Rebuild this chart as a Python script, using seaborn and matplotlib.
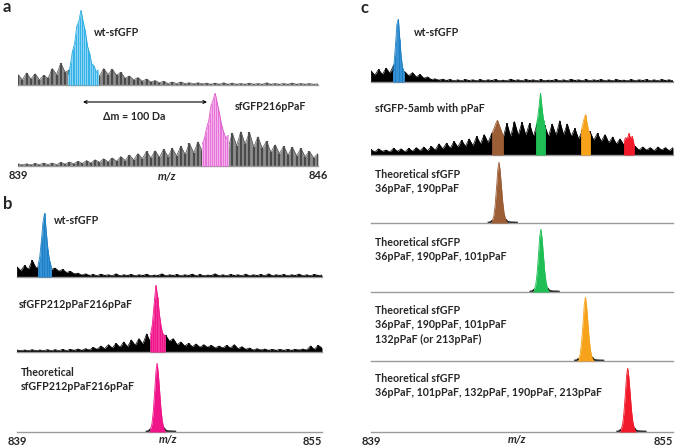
import numpy as np
import pandas as pd
import seaborn as sns
import matplotlib.pyplot as plt

# ---- panel a: m/z 839-846, intensities in % of the highlighted peak ----
a_range = (839.0, 846.0)
a_ticks = [839, 846]
a_wt_bg = [14, 7, 16, 8, 15, 7, 13, 9, 22, 14, 29, 17, 20, 12, 14, 10, 14, 10,
           16, 12, 22, 14, 21, 13, 17, 9, 12, 7, 10, 5, 8, 4, 6, 3, 5, 2, 4, 2,
           4, 2, 3, 1.5, 3, 1.5, 2.5, 1, 2.5, 1, 3, 1, 2.5, 1, 2, 1, 2.5, 1, 2,
           1, 3, 1, 2, 1, 2, 1, 2.5, 1, 2, 1, 2, 1, 1.5]
a_wt_peak_range = (840.17, 840.87)
a_wt_peak = [15, 26, 45, 55, 78, 85, 100, 84, 72, 52, 42, 28, 26, 18, 20]
a_mut_bg = [3, 1.5, 3, 1.5, 3.5, 2, 4, 2, 4, 2, 5, 2.5, 5.5, 3, 6.5, 3.5, 7.5,
            4, 8.5, 5, 10, 5.5, 11, 6.5, 13, 7.5, 15, 8.5, 17, 10, 20, 11, 21,
            12, 23, 13, 24, 14, 27, 16, 31, 18, 33, 20, 30, 20, 30, 20, 35, 24,
            45, 28, 47, 30, 46, 26, 40, 24, 34, 19, 29, 17, 27, 15, 26, 14, 24,
            13, 20, 11, 17]
a_mut_peak_range = (843.30, 843.90)
a_mut_peak = [30, 38, 52, 62, 82, 90, 100, 86, 72, 56, 46, 38, 42]

# ---- panels b and c: m/z 839-855 ----
bc_range = (839.0, 855.0)
bc_ticks = [839, 855]
b_wt_bg = [16, 10, 18, 12, 26, 14, 18, 14, 16, 12, 14, 9, 12, 7, 9, 5, 6, 3, 5,
           2.5, 4,
           2, 4.5, 2.5, 3.5, 2, 5, 2, 3.5, 2.5, 4,
           2, 3.5, 2.5, 4.5, 2, 3, 2.5, 5, 2, 3.5,
           2.5, 4, 2, 3.5, 2.5, 4.5, 2, 4, 2, 3,
           2.5, 5, 2, 3.5, 2, 4, 2.5, 3.5, 2, 4.5,
           2, 3.5, 2.5, 4, 2, 5, 2, 3.5, 2.5, 4,
           2, 3.5, 2.5, 4.5, 2, 3.5, 2, 4, 2.5, 3]
b_wt_peak_range = (840.10, 840.80)
b_wt_peak = [18, 30, 55, 85, 100, 70, 42, 25, 16]
b_mut_bg = [3, 2, 3, 2, 3.5, 2, 3, 2, 3.5, 2,
            3.5, 2, 4, 2, 4, 2.5, 4.5, 2.5, 5, 3,
            7, 4, 9, 5, 11, 6, 13, 7, 15, 8,
            18, 10, 20, 12, 27, 15, 20, 15, 20, 25,
            16, 20, 11, 15, 9, 13, 8, 12, 7, 11,
            7, 10, 6, 9, 6, 10, 6, 11, 5, 8,
            4, 6, 3, 5, 3, 4.5, 2.5, 4, 2.5, 4,
            2.5, 4, 2.5, 4, 3, 4.5, 3, 9, 4, 10,
            6]
b_mut_peak_range = (846.00, 846.76)
b_mut_peak = [26, 40, 70, 100, 82, 55, 36, 26, 25]
b_theo_center = 846.35

c_wt_bg = [18, 11, 20, 12, 22, 14, 27, 15, 18, 16,
           10, 15, 8, 12, 6, 8, 4, 5, 3, 4.5,
           2.5, 4, 2, 3.5, 2, 4, 2.5, 3.5, 2, 4,
           2, 3.5, 2.5, 4, 2, 3, 2, 4.5, 2.5, 3.5,
           2, 4, 2.5, 3.5, 2, 4, 2, 3, 2.5, 4,
           2, 3.5, 2, 4.5, 2.5, 3.5, 2, 4, 2, 3.5,
           2.5, 4, 2, 3.5, 2, 4, 2.5, 3, 2, 4,
           2, 3.5, 2.5, 4, 2, 3.5, 2, 4, 2.5, 3.5,
           2]
c_wt_peak_range = (840.15, 840.75)
c_wt_peak = [18, 30, 60, 92, 100, 68, 40, 22, 16]
c_amb_bg = [9, 5, 10, 6, 8, 5, 11, 6, 10, 5,
            11, 6, 12, 7, 13, 7, 14, 8, 18, 10,
            19, 11, 22, 13, 24, 14, 26, 15, 30, 18,
            33, 20, 35, 22, 30, 28, 51, 30, 54, 32,
            53, 32, 51, 30, 50, 30, 48, 30, 50, 32,
            55, 33, 50, 30, 43, 26, 40, 26, 38, 24,
            35, 22, 33, 20, 29, 18, 26, 16, 24, 15,
            14, 8, 13, 8, 12, 7, 13, 8, 12, 7,
            12]
c_amb_peak_ranges = [(845.41, 845.99), (847.74, 848.22), (850.13, 850.60), (852.40, 852.93)]
c_amb_peaks = [[35, 42, 50, 56, 48, 40, 32],
               [45, 58, 77, 100, 76, 56, 45],
               [38, 48, 58, 65, 52, 40, 34],
               [22, 28, 26, 35, 27, 30, 18]]
c_theo_centers = [845.78, 848.00, 850.36, 852.60]

# theoretical isotope envelope (offset from centre, % intensity)
theo_offset = [-0.6, -0.45, -0.35, -0.27, -0.2, -0.13, -0.06, 0.0, 0.06, 0.13,
               0.2, 0.27, 0.35, 0.45, 0.6, 0.8, 1.0]
theo_intensity = [0.5, 1, 4, 12, 30, 58, 88, 100, 86, 60, 34, 16, 6, 2, 1, 0.8, 0.5]

c_colors = ['#9b5e35', '#1fbf55', '#f7a21b', '#f01a2a']

W, H = 678, 446
sns.set_style('white')
plt.rcParams['font.family'] = ['Lato', 'DejaVu Sans']
fig = plt.figure(figsize=(W / 100, H / 100), dpi=100)


def px_axes(left, right, base, top, xr):
    ax = fig.add_axes([left / W, 1 - base / H, (right - left) / W, (base - top) / H])
    ax.set_xlim(*xr)
    ax.set_ylim(0, 100)
    for s in ['left', 'right', 'top']:
        ax.spines[s].set_visible(False)
    ax.spines['bottom'].set_color('#9a9a9a')
    ax.spines['bottom'].set_linewidth(1.0)
    ax.set_xticks([])
    ax.set_yticks([])
    ax.patch.set_alpha(0)
    return ax


def trace(ax, lo, hi, vals, color, fill, stem, z=1, lw=0.6, stem_lw=1.1):
    x = np.linspace(lo, hi, len(vals))
    df = pd.DataFrame({'mz': x, 'intensity': vals})
    ax.fill_between(x, 0, vals, color=fill, lw=0, zorder=z)
    ax.vlines(x, 0, vals, color=stem, lw=stem_lw, zorder=z + 0.5)
    sns.lineplot(data=df, x='mz', y='intensity', ax=ax, color=color, lw=lw,
                 zorder=z + 1)
    ax.set_xlabel('')
    ax.set_ylabel('')


def theo(ax, center, color):
    x = center + np.array(theo_offset)
    y = np.array(theo_intensity)
    foot = y <= 4
    ax.plot(x[:3], y[:3], color='#222222', lw=1.4, solid_capstyle='butt', zorder=2)
    ax.plot(x[12:], y[12:], color='#222222', lw=1.4, solid_capstyle='butt', zorder=2)
    m = ~foot | (y == 4)
    ax.fill_between(x, 0, y, where=m, color=color, lw=0, interpolate=True, zorder=3)
    sns.lineplot(x=x[m], y=y[m], ax=ax, color=color, lw=0.6, zorder=4)


def ticks(ax, tk, last_ha):
    ax.set_xticks(tk, [str(t) for t in tk])
    ax.tick_params(axis='x', length=0, pad=3, labelsize=8)
    labs = ax.get_xticklabels()
    for t in labs:
        t.set_fontweight('bold')
    labs[-1].set_ha(last_ha)


def label(text, x, y, size=7.7, **kw):
    fig.text(x / W, 1 - y / H, text, fontsize=size, fontweight='bold',
             va='center', ha='left', **kw)


GRAY = ('#555555', '#8e8e8e', '#4a4a4a')
BLACK = ('black', 'black', 'black')

# ---- panel a ----
ax_a = px_axes(18, 318, 85, 10, a_range)
trace(ax_a, *a_range, a_wt_bg, *GRAY, lw=0.5, stem_lw=1.6)
trace(ax_a, *a_wt_peak_range, a_wt_peak, '#2aa9e0', '#36b4ea', '#8fd6f4', z=3, stem_lw=0.7)
ax = px_axes(18, 318, 166, 93, a_range)
trace(ax, *a_range, a_mut_bg, *GRAY, lw=0.5, stem_lw=1.6)
trace(ax, *a_mut_peak_range, a_mut_peak, '#dc5acb', '#e873d9', '#f4b3ec', z=3, stem_lw=0.7)
ticks(ax, a_ticks, 'center')

# ---- panel b ----
ax = px_axes(17, 322, 277, 213, bc_range)
trace(ax, *bc_range, b_wt_bg, *BLACK, lw=0.5)
trace(ax, *b_wt_peak_range, b_wt_peak, '#1d7fc4', '#1d7fc4', '#3a95d6', z=3, stem_lw=0.6)
ax = px_axes(17, 322, 352, 285, bc_range)
trace(ax, *bc_range, b_mut_bg, *BLACK, lw=0.5)
trace(ax, *b_mut_peak_range, b_mut_peak, '#f0148a', '#f0148a', '#f5409f', z=3, stem_lw=0.6)
ax = px_axes(17, 322, 432, 363, bc_range)
theo(ax, b_theo_center, '#f0148a')
ticks(ax, bc_ticks, 'right')

# ---- panel c ----
ax = px_axes(371, 673, 82, 19, bc_range)
trace(ax, *bc_range, c_wt_bg, *BLACK, lw=0.5)
trace(ax, *c_wt_peak_range, c_wt_peak, '#1d7fc4', '#1d7fc4', '#3a95d6', z=3, stem_lw=0.6)
ax = px_axes(371, 673, 155, 93, bc_range)
trace(ax, *bc_range, c_amb_bg, *BLACK, lw=0.5)
for rng, pk, col in zip(c_amb_peak_ranges, c_amb_peaks, c_colors):
    trace(ax, *rng, pk, col, col, col, z=3, stem_lw=0.6)
rows = [(223, 162), (292, 229), (361, 297), (432, 368)]
for (base, top), cen, col in zip(rows, c_theo_centers, c_colors):
    ax = px_axes(371, 673, base, top, bc_range)
    theo(ax, cen, col)
ticks(ax, bc_ticks, 'right')

# ---- text ----
label('a', 3, 7, size=12)
label('b', 3, 204, size=12)
label('c', 360, 8, size=12)
label('wt-sfGFP', 94, 32)
label('sfGFP216pPaF', 235, 107)
label('\u0394m = 100 Da', 103, 117)
ax_a.annotate('', xy=(207 / W, 1 - 102 / H), xytext=(83 / W, 1 - 102 / H),
              xycoords='figure fraction', textcoords='figure fraction',
              annotation_clip=False,
              arrowprops=dict(arrowstyle='<->', lw=0.8, color='black',
                              mutation_scale=5, shrinkA=0, shrinkB=0))
label('wt-sfGFP', 54, 221)
label('sfGFP212pPaF216pPaF', 19, 305)
label('Theoretical', 21, 372)
label('sfGFP212pPaF216pPaF', 21, 386)
label('wt-sfGFP', 414, 33)
label('sfGFP-5amb with pPaF', 375, 108)
label('Theoretical sfGFP', 375, 175)
label('36pPaF, 190pPaF', 375, 189)
label('Theoretical sfGFP', 375, 242)
label('36pPaF, 190pPaF, 101pPaF', 375, 256)
label('Theoretical sfGFP', 375, 311)
label('36pPaF, 190pPaF, 101pPaF', 375, 325)
label('132pPaF (or 213pPaF)', 375, 339)
label('Theoretical sfGFP', 375, 379)
label('36pPaF, 101pPaF, 132pPaF, 190pPaF, 213pPaF', 375, 393)
for x, y in [(167, 177), (168, 440), (517, 440)]:
    fig.text(x / W, 1 - y / H, 'm/z', fontsize=8, fontweight='bold',
             style='italic', ha='center', va='center')

fig.savefig('out.png', dpi=100)
